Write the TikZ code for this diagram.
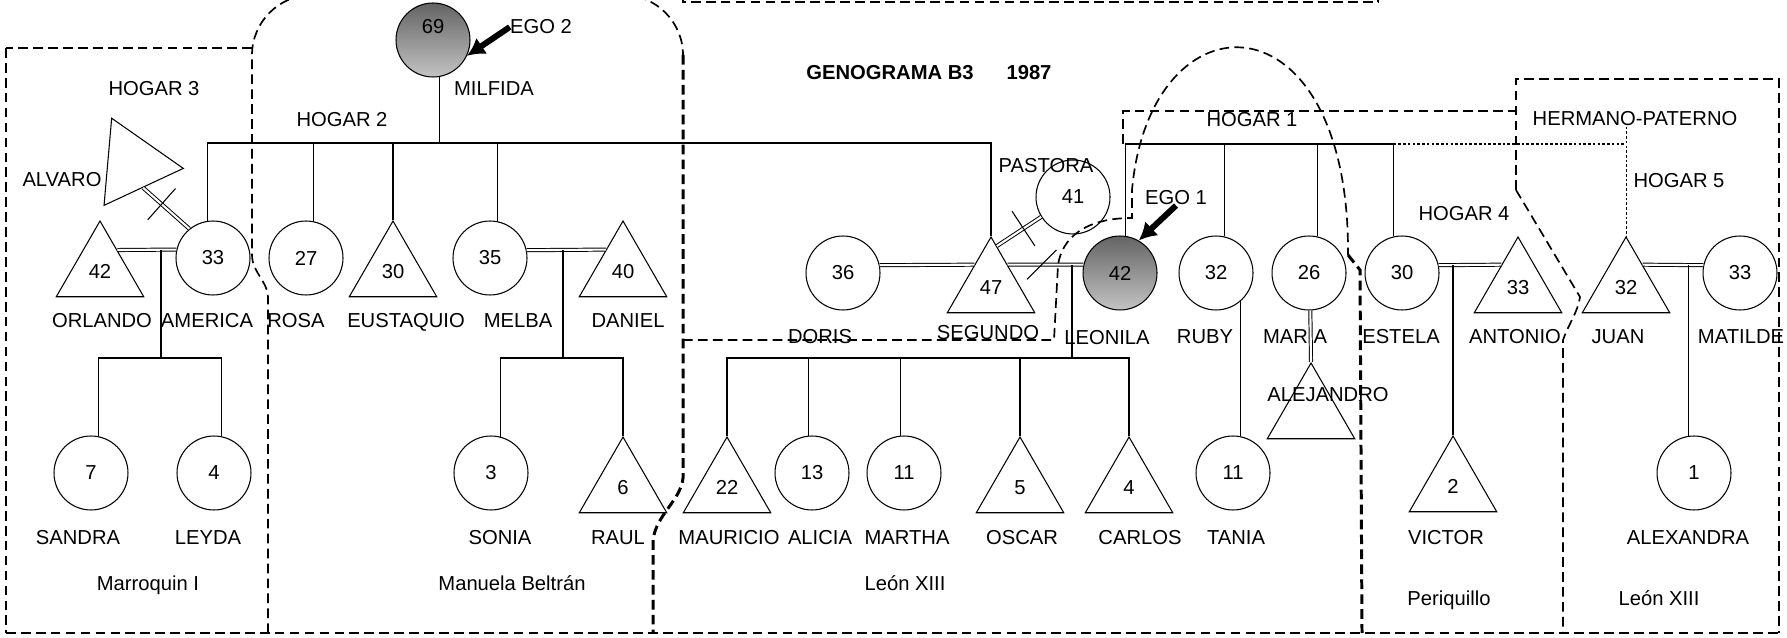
\documentclass[tikz,border=0pt]{standalone}
\usepackage{fontspec}
\setmainfont{Liberation Sans}
\usetikzlibrary{shapes.geometric, arrows.meta}
\newcommand\lblfont{\fontsize{11.5}{13}\selectfont}
\definecolor{egotop}{RGB}{100,100,100}
\definecolor{egobot}{RGB}{195,195,195}
\begin{document}
\begin{tikzpicture}[x=0.02cm, y=-0.02cm,
  person/.style={circle, draw, line width=0.6pt, minimum size=1.48cm, inner sep=0pt, font=\lblfont},
  male/.style={regular polygon, regular polygon sides=3, draw, line width=0.6pt, minimum size=2.02cm, inner sep=0pt, font=\lblfont},
  egop/.style={person, top color=egotop, bottom color=egobot},
  txt/.style={inner sep=0pt, anchor=base, font=\lblfont},
  rel/.style={line width=0.6pt},
  marr/.style={double, double distance=1.2pt, line width=0.55pt},
  hp/.style={line width=0.6pt, dash pattern=on 1.5pt off 1.2pt},
  bnd/.style={dash pattern=on 5.5pt off 3pt, line width=0.95pt},
  bndt/.style={bnd, line width=1.7pt},
  xm/.style={inner sep=0pt, minimum height=0.82cm, minimum width=0pt, draw=none},
  egoarr/.style={line width=3.4pt, -{Latex[length=10pt,width=11pt]}}
]
\useasboundingbox (0,0) rectangle (1787,638);

% ---- persons, generation 1/2
\node[egop] (mil) at (433,40) {};
\node[txt] (mil69) at (433,33.5) {69};
\node[male, shape border rotate=-95] (alv) at (133,164) {};
\node[male] (orl) at (100,271.5) {42};
\node[person] (ame) at (213,258) {33};
\node[person] (ros) at (306,258) {27};
\node[male] (eus) at (393,271.5) {30};
\node[person] (mel) at (490,258) {35};
\node[male] (dan) at (623,271.5) {40};

\node[person] (dor) at (843,273) {36};
\node[male] (seg) at (991,287.5) {47};
\node[person] (pas) at (1073,197) {41};
\node[egop] (leo) at (1120,273) {42};
\node[person] (rub) at (1216,273) {32};
\node[person] (mar) at (1309,273) {26};
\node[person] (est) at (1402,273) {30};
\node[male] (ant) at (1518,287.5) {33};
\node[male] (jua) at (1626,287.5) {32};
\node[person] (mat) at (1740,273) {33};
\node[male] (ale) at (1311,413.5) {};

% ---- children
\node[person] (san) at (91,473) {7};
\node[person] (ley) at (214,473) {4};
\node[person] (son) at (491,473) {3};
\node[male] (rau) at (623,487.5) {6};
\node[male] (mau) at (727,487.5) {22};
\node[person] (ali) at (812,473) {13};
\node[person] (mrt) at (904,473) {11};
\node[male] (osc) at (1020,487.5) {5};
\node[male] (car) at (1129,487.5) {4};
\node[person] (tan) at (1233,473) {11};
\node[male] (vic) at (1453,486.5) {2};
\node[person] (alx) at (1694,473) {1};

% ---- texts
\node[txt] (th3) at (154,96) {HOGAR 3};
\node[txt] (th2) at (342,127) {HOGAR 2};
\node[txt] (tmil) at (494,96) {MILFIDA};
\node[txt] (ego2) at (541,34) {EGO 2};
\node[txt, font=\lblfont\bfseries] (tgen) at (890,80) {GENOGRAMA B3};
\node[txt, font=\lblfont\bfseries] (tyear) at (1029,80) {1987};
\node[txt] (th1) at (1252,127) {HOGAR 1};
\node[txt] (thp) at (1635,126) {HERMANO-PATERNO};
\node[txt] (th5) at (1679,188) {HOGAR 5};
\node[txt] (th4) at (1464,221) {HOGAR 4};
\node[txt] (tpas) at (1046,173) {PASTORA};
\node[txt] (ego1) at (1176,205) {EGO 1};
\node[txt] (talv) at (62,187) {ALVARO};

\node[txt] (torl) at (102,328) {ORLANDO};
\node[txt] (tame) at (207,328) {AMERICA};
\node[txt] (tros) at (296,328) {ROSA};
\node[txt] (teus) at (406,328) {EUSTAQUIO};
\node[txt] (tmel) at (518,328) {MELBA};
\node[txt] (tdan) at (628,328) {DANIEL};

\node[txt] (tdor) at (820,343) {DORIS};
\node[txt] (tseg) at (988,339) {SEGUNDO};
\node[txt] (tleo) at (1107,344) {LEONILA};
\node[txt] (trub) at (1205,343) {RUBY};
\node[txt] (tmar) at (1295,343) {MARIA};
\node[txt] (test) at (1401,343) {ESTELA};
\node[txt] (tant) at (1515,343) {ANTONIO};
\node[txt] (tjua) at (1618,343) {JUAN};
\node[txt] (tmat) at (1741,343) {MATILDE};
\node[txt] (tale) at (1328,401) {ALEJANDRO};

\node[txt] (tsan) at (78,544) {SANDRA};
\node[txt] (tley) at (208,544) {LEYDA};
\node[txt] (tson) at (500,544) {SONIA};
\node[txt] (trau) at (618,544) {RAUL};
\node[txt] (tmau) at (729,544) {MAURICIO};
\node[txt] (tali) at (820,544) {ALICIA};
\node[txt] (tmrt) at (907,544) {MARTHA};
\node[txt] (tosc) at (1022,544) {OSCAR};
\node[txt] (tcar) at (1140,544) {CARLOS};
\node[txt] (ttan) at (1236,544) {TANIA};
\node[txt] (tvic) at (1446,544) {VICTOR};
\node[txt] (talx) at (1688,544) {ALEXANDRA};

\node[txt] (bmar) at (148,590) {Marroquin I};
\node[txt] (bman) at (512,590) {Manuela Beltrán};
\node[txt] (bleo) at (905,590) {León XIII};
\node[txt] (bper) at (1449,605) {Periquillo};
\node[txt] (bleo2) at (1659,605) {León XIII};

% ---- sibling bars
\coordinate (b1) at (439,143);
\draw[rel] (ame.99) |- (seg.north |- b1) -- (seg.north);
\draw[rel] (mil.-80) -- (mil.-80 |- b1);
\draw[rel] (ros.79) -- (ros.79 |- b1);
\draw[rel] (eus.north) -- (eus.north |- b1);
\draw[rel] (mel.79) -- (mel.79 |- b1);

\coordinate (b2) at (1125,144);
\draw[rel] (leo.82) |- (est.103 |- b2) -- (est.103);
\draw[rel] (rub.77) -- (rub.77 |- b2);
\draw[rel] (mar.77) -- (mar.77 |- b2);
\draw[hp] (est.103 |- b2) -- (jua.north |- b2);
\draw[hp] (thp.south -| jua.north) -- (jua.north);

% ---- couples
\draw[marr] (orl.51) -- (ame.167);
\draw[marr] (mel.12) -- (dan.128);
\draw[marr] (alv.-67) -- (ame.129);
\path (alv.-67) -- node[xm, sloped, pos=0.4] (x1) {} (ame.129);
\draw[rel] (x1.north) -- (x1.south);

\draw[marr] (dor.12) -- (seg.126);
\draw[marr] (seg.54) -- (leo.167);
\path (seg.54) -- node[xm, pos=0.45, rotate=-45] (x3) {} (leo.167);
\draw[rel] (x3.north) -- (x3.south);
\draw[marr] (seg.82) -- (pas.212);
\path (seg.82) -- node[xm, sloped, pos=0.6] (x2) {} (pas.212);
\draw[rel] (x2.north) -- (x2.south);

\draw[marr] (est.12) -- (ant.126);
\draw[marr] (jua.54) -- (mat.168);
\draw[marr] (mar.-88) -- (ale.north);

% ---- children lines
\coordinate (k1) at (161,358);
\draw[rel] (k1) -- (k1 |- ame.167);
\draw[rel] (san.78) |- (k1) -| (ley.78);

\coordinate (k2) at (563,358);
\draw[rel] (k2) -- (k2 |- mel.12);
\draw[rel] (son.76) |- (k2) -| (rau.north);

\coordinate (k3) at (1072,358);
\draw[rel] (k3) -- (k3 |- leo.167);
\draw[rel] (mau.north) |- (k3) -| (car.north);
\draw[rel] (ali.96) -- (ali.96 |- k3);
\draw[rel] (mrt.96) -- (mrt.96 |- k3);
\draw[rel] (osc.north) -- (osc.north |- k3);

\draw[rel] (tan.79) -- (tan.79 |- rub.-49);
\draw[rel] (vic.north) -- (vic.north |- est.12);
\draw[rel] (alx.99) -- (alx.99 |- mat.168);

% ---- ego arrows
\draw[egoarr] (ego2.west) -- (mil.-25);
\draw[egoarr] (ego1.south) -- (leo.60);

% ---- household boundaries
\draw[bnd] (252,48) -- (6,48);
\draw[bndt] (6,48) -- (6,633);
\draw[bnd] (6,633) -- (1779,633);
\draw[bnd] (268,633) -- (268,297) .. controls (268,282) and (252,272) .. (252,255) -- (252,55)
  .. controls (252,22) and (279,-5) .. (312,-5) -- (623,-5)
  .. controls (656,-5) and (683,22) .. (683,55);
\draw[bndt] (683,55) -- (683,478) .. controls (681,500) and (656,515) .. (653,540) -- (653,633);
\draw[bnd] (683,-5) -- (683,2) -- (1378,2) -- (1378,-5);
\draw[bnd] (683,340) -- (1054,340) -- (1058,265) .. controls (1062,238) and (1085,218) .. (1132,218)
  -- (1132,190) .. controls (1150,-10) and (1350,-10) .. (1348,255);
\draw[bndt] (1348,255) -- (1360,270) -- (1362,633);
\draw[bnd] (1123,144) -- (1123,111) -- (1516,111);
\draw[bnd] (1516,190) -- (1516,79) -- (1779,79) -- (1779,633);
\draw[bnd] (1516,190) -- (1580,297) .. controls (1578,312) and (1568,325) .. (1563,340) -- (1563,633);
\end{tikzpicture}
\end{document}
